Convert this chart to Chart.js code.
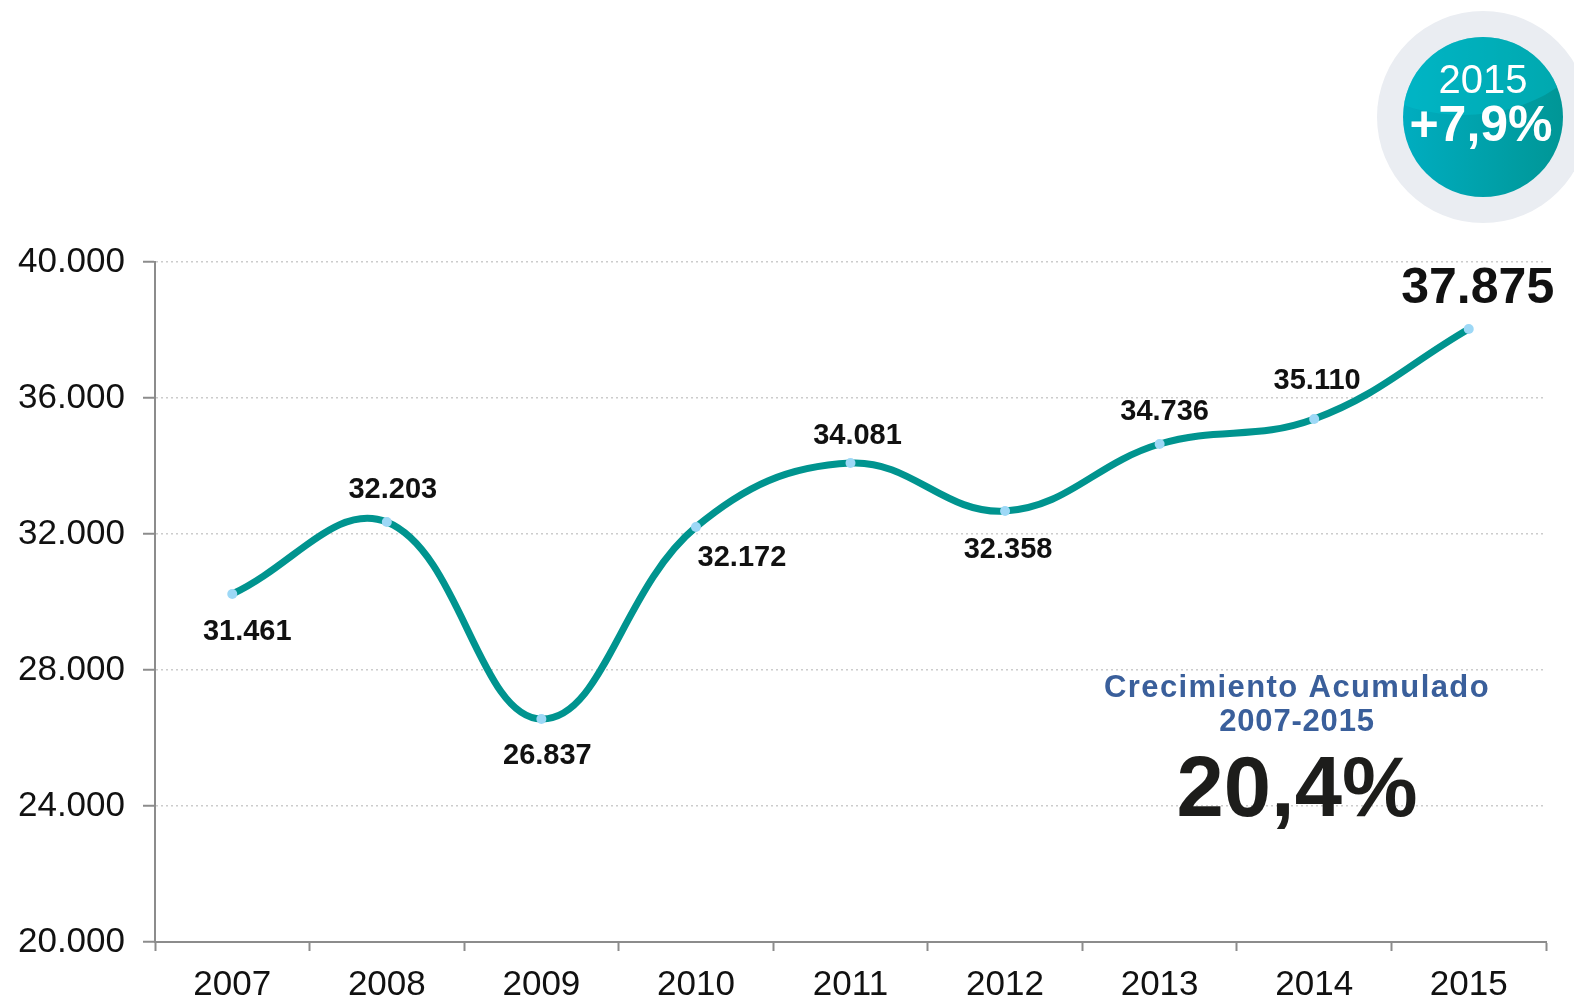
<!DOCTYPE html>
<html>
<head>
<meta charset="utf-8">
<script src="https://cdn.jsdelivr.net/npm/chart.js@4.4.1/dist/chart.umd.min.js"></script>
<style>
  html, body { margin: 0; padding: 0; background: #fff; overflow: hidden; }
  #wrap { width: 1574px; height: 998px; position: relative; }
</style>
</head>
<body>
<div id="wrap"><canvas id="grafico"></canvas></div>
<script>
// datos
const anios = ['2007', '2008', '2009', '2010', '2011', '2012', '2013', '2014', '2015'];
const valores = [30235, 32353, 26559, 32206, 34088, 32676, 34647, 35382, 38029];
const etiquetas = ['31.461', '32.203', '26.837', '32.172', '34.081', '32.358', '34.736', '35.110', '37.875'];
const ticksY = [20000, 24000, 28000, 32000, 36000, 40000];

// donde va cada etiqueta respecto al punto
const desplaz = [[15, 38], [6, -32], [6, 37], [46, 31], [7, -27], [3, 39], [5, -32], [3, -38], [9, -40]];

const FUENTE = '"Liberation Sans", Arial, sans-serif';

function fmt(v) {
  return String(v).replace(/\B(?=(\d{3})+(?!\d))/g, '.');
}

const extras = {
  id: 'extras',
  afterDatasetsDraw(chart) {
    const ctx = chart.ctx;
    const meta = chart.getDatasetMeta(0);
    ctx.save();
    ctx.textAlign = 'center';
    ctx.textBaseline = 'middle';
    ctx.fillStyle = '#111';
    meta.data.forEach(function(p, i) {
      const ult = i === meta.data.length - 1;
      ctx.font = 'bold ' + (ult ? 50 : 29) + 'px ' + FUENTE;
      ctx.fillText(etiquetas[i], p.x + desplaz[i][0], p.y + desplaz[i][1]);
    });

    // crecimiento acumulado
    ctx.fillStyle = '#3a5f9b';
    ctx.font = 'bold 31px ' + FUENTE;
    ctx.letterSpacing = '1.4px';
    ctx.textBaseline = 'alphabetic';
    ctx.fillText('Crecimiento Acumulado', 1297, 697);
    ctx.letterSpacing = '0.8px';
    ctx.fillText('2007-2015', 1297, 731);
    ctx.letterSpacing = '0px';
    ctx.fillStyle = '#1d1d1b';
    ctx.font = 'bold 85px ' + FUENTE;
    ctx.fillText('20,4%', 1297, 816);

    // circulo 2015
    const cx = 1483, cy = 117;
    ctx.beginPath();
    ctx.arc(cx, cy, 106, 0, Math.PI * 2);
    ctx.fillStyle = '#eaedf2';
    ctx.fill();
    const g = ctx.createLinearGradient(cx - 80, 0, cx + 80, 0);
    g.addColorStop(0, '#00adc0');
    g.addColorStop(1, '#009696');
    ctx.beginPath();
    ctx.arc(cx, cy, 80, 0, Math.PI * 2);
    ctx.fillStyle = g;
    ctx.fill();
    // brillo arriba
    ctx.save();
    ctx.beginPath();
    ctx.arc(cx, cy, 80, 0, Math.PI * 2);
    ctx.clip();
    ctx.beginPath();
    ctx.ellipse(cx - 20, cy - 92, 130, 90, 0, 0, Math.PI * 2);
    ctx.fillStyle = 'rgba(0,190,205,0.45)';
    ctx.fill();
    ctx.restore();
    ctx.fillStyle = '#fff';
    ctx.textBaseline = 'middle';
    ctx.font = '40px ' + FUENTE;
    ctx.fillText('2015', 1483, 82);
    ctx.font = 'bold 50px ' + FUENTE;
    ctx.fillText('+7,9%', 1481, 127);
    ctx.restore();
  }
};

const lineChart = new Chart(document.getElementById('grafico'), {
  type: 'line',
  data: {
    labels: anios,
    datasets: [{
      data: valores,
      borderColor: '#00948f',
      borderWidth: 7,
      tension: 0.4,
      pointRadius: 5,
      pointBackgroundColor: '#9dd8f6',
      pointBorderWidth: 0,
      fill: false
    }]
  },
  options: {
    responsive: true,
    maintainAspectRatio: false,
    animation: false,
    layout: { padding: { top: 262, right: 28, left: 0, bottom: 0 } },
    plugins: {
      legend: { display: false },
      tooltip: { enabled: false }
    },
    scales: {
      x: {
        offset: true,
        afterFit: function(s) { s.height = 56; },
        grid: {
          drawOnChartArea: false,
          drawTicks: true,
          tickLength: 9,
          tickColor: '#8c8c8c',
          tickWidth: 2,
          offset: true
        },
        border: { display: true, color: '#8c8c8c', width: 2 },
        ticks: {
          color: '#111',
          font: { family: FUENTE, size: 35 },
          padding: 13,
          maxRotation: 0
        }
      },
      y: {
        min: 20000,
        max: 40000,
        afterFit: function(s) { s.width = 155; },
        afterBuildTicks: function(s) { s.ticks = ticksY.map(function(v) { return { value: v }; }); },
        grid: {
          color: '#cccccc',
          lineWidth: 1.5,
          tickLength: 12,
          tickColor: '#8c8c8c',
          tickWidth: 2,
          tickBorderDash: []
        },
        border: { display: true, color: '#8c8c8c', width: 2, dash: [2, 3] },
        ticks: {
          color: '#111',
          font: { family: FUENTE, size: 35 },
          padding: 18,
          callback: function(v) { return fmt(v); }
        }
      }
    }
  },
  plugins: [extras]
});
</script>
</body>
</html>
